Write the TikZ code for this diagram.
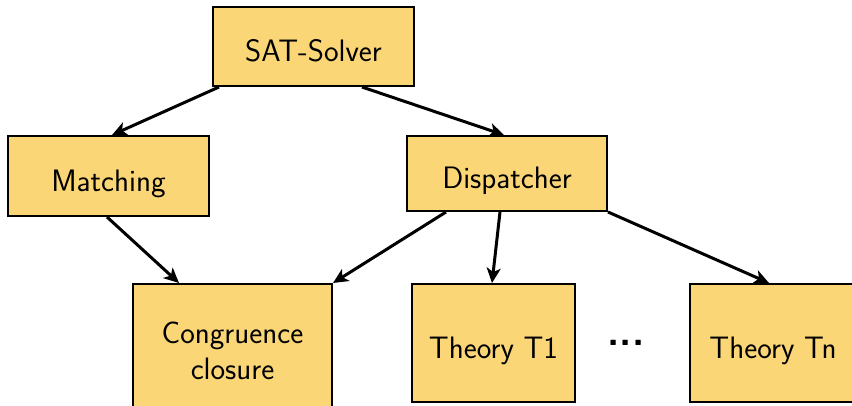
\documentclass[tikz,border=0pt]{standalone}
\usetikzlibrary{arrows.meta}
\definecolor{boxfill}{RGB}{251,214,119}
\begin{document}
\begin{tikzpicture}[x=1pt,y=-1pt,
  box/.style={draw=black, line width=2pt, fill=boxfill, rectangle, inner sep=0pt,
    font=\sffamily\fontsize{31}{36}\selectfont, align=center},
  onel/.style={text height=30pt, text depth=0pt},
  arr/.style={line width=3pt, -{Stealth[length=15pt,width=14pt,inset=4pt]}}]
\useasboundingbox (0,0) rectangle (852,405);
\clip (0,0) rectangle (852,405);
\node[box, onel, minimum width=201pt, minimum height=79pt] (sat) at (313.5,46.5) {SAT-Solver};
\node[box, onel, minimum width=201pt, minimum height=80pt] (match) at (108.5,176) {Matching};
\node[box, onel, minimum width=200pt, minimum height=75pt] (disp) at (507,173.5) {Dispatcher};
\node[box, minimum width=199pt, minimum height=134pt] (cong) at (232.5,351) {Congruence\\closure};
\node[box, onel, minimum width=163pt, minimum height=118pt] (t1) at (493.5,343) {Theory T1};
\node[box, onel, minimum width=166pt, minimum height=118pt] (tn) at (773,343) {Theory Tn};
\node[font=\sffamily\bfseries\fontsize{40}{44}\selectfont, anchor=base, inner sep=0pt] (dots) at (626,345) {...};
\draw[arr] ([xshift=7pt]sat.south west) -- ([xshift=105pt]match.north west);
\draw[arr] ([xshift=150pt]sat.south west) -- ([xshift=98pt]disp.north west);
\draw[arr] ([xshift=100pt]match.south west) -- ([xshift=47pt]cong.north west);
\draw[arr] ([xshift=40pt]disp.south west) -- (cong.north east);
\draw[arr] ([xshift=94pt]disp.south west) -- ([xshift=81pt]t1.north west);
\draw[arr] (disp.south east) -- ([xshift=80pt]tn.north west);
\end{tikzpicture}
\end{document}
